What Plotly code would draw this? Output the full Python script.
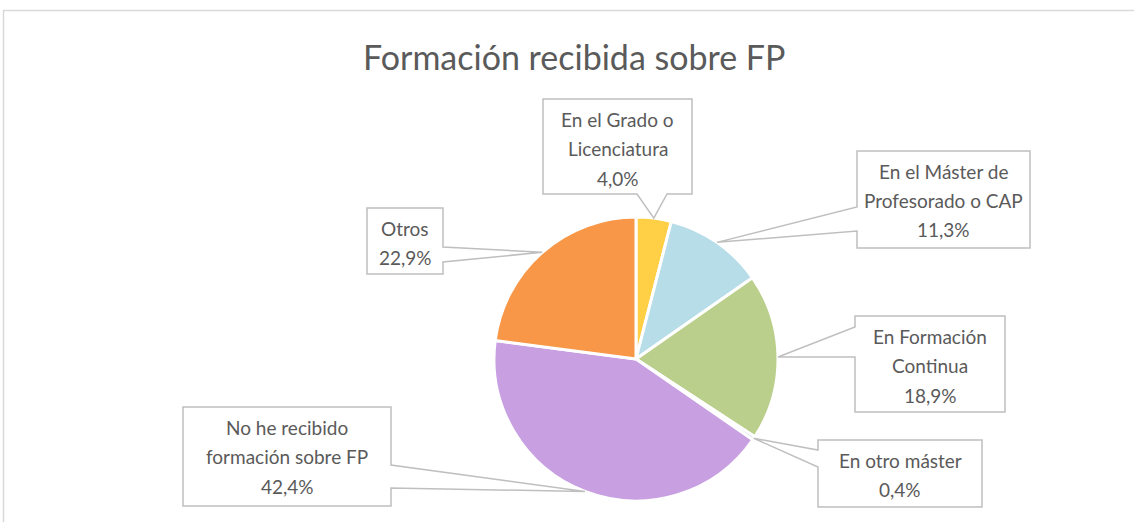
import math
import plotly.graph_objects as go

# ---------------- data ----------------
categories = [
    "En el Grado o Licenciatura",
    "En el Máster de Profesorado o CAP",
    "En Formación Continua",
    "En otro máster",
    "No he recibido formación sobre FP",
    "Otros",
]
values = [4.0, 11.3, 18.9, 0.4, 42.4, 22.9]
label_lines = [
    ["En el Grado o", "Licenciatura"],
    ["En el Máster de", "Profesorado o CAP"],
    ["En Formación", "Continua"],
    ["En otro máster"],
    ["No he recibido", "formación sobre FP"],
    ["Otros"],
]
title_text = "Formación recibida sobre FP"

# ---------------- style / layout ----------------
colors = ["#FFCF45", "#B7DDE8", "#B9CF8B", "#A7BFE0", "#C8A0E2", "#F79747"]
W, H = 1134, 522
CX, CY, R = 636, 359, 142  # pie centre / radius in pixels
TEXT_COLOR = "#5A5A5A"
LINE_COLOR = "#BFBFBF"
FONT = "Lato"
LABEL_SIZE = 19
TITLE_SIZE = 34

# callout boxes in pixels: (x0, y0, x1, y1, side, base_a, base_b)
callouts = [
    (543, 99, 692, 194, "bottom", 637, 667),
    (857, 151, 1030, 248, "left", 207, 231),
    (855, 316, 1005, 412, "left", 327, 357),
    (818, 440, 982, 507, "left", 450, 467),
    (183, 407, 391, 506, "right", 465, 488),
    (367, 208, 443, 274, "right", 247, 262),
]


def px(x):
    return x / W


def py(y):
    return 1 - y / H


fig = go.Figure()
fig.add_trace(
    go.Pie(
        labels=categories,
        values=values,
        sort=False,
        direction="clockwise",
        rotation=0,
        textinfo="none",
        hoverinfo="label+percent",
        marker=dict(colors=colors, line=dict(color="white", width=3)),
        domain=dict(x=[px(CX - R), px(CX + R)], y=[py(CY + R), py(CY - R)]),
        showlegend=False,
    )
)

# tips of the callouts: mid-angle of each slice on the pie edge
total = sum(values)
cum = 0.0
tips = []
for v in values:
    mid = (cum + v / 2) / total * 2 * math.pi
    cum += v
    tips.append((CX + R * math.sin(mid), CY - R * math.cos(mid)))

shapes = []
annotations = []
for (x0, y0, x1, y1, side, a, b), (tx, ty), lines, v in zip(callouts, tips, label_lines, values):
    pts = [(x0, y0), (x1, y0)]
    if side == "right":
        pts += [(x1, a), (tx, ty), (x1, b)]
    pts.append((x1, y1))
    if side == "bottom":
        pts += [(b, y1), (tx, ty), (a, y1)]
    pts.append((x0, y1))
    if side == "left":
        pts += [(x0, b), (tx, ty), (x0, a)]
    path = "M " + " L ".join(f"{px(x):.5f},{py(y):.5f}" for x, y in pts) + " Z"
    shapes.append(
        dict(type="path", path=path, xref="paper", yref="paper",
             line=dict(color=LINE_COLOR, width=1.5), fillcolor="white", layer="above")
    )
    txt_lines = lines + [f"{v:.1f}".replace(".", ",") + "%"]
    for i, t in enumerate(txt_lines):
        annotations.append(
            dict(text=t, x=px((x0 + x1) / 2), y=py(y0 + 20 + i * 29.5), xref="paper", yref="paper",
                 xanchor="center", yanchor="middle", showarrow=False,
                 font=dict(family=FONT, size=LABEL_SIZE, color=TEXT_COLOR))
        )

# outer chart frame
shapes.insert(0, dict(type="rect", xref="paper", yref="paper",
                      x0=px(3.5), y0=py(530), x1=px(1140), y1=py(10.5),
                      line=dict(color="#D9D9D9", width=1.5), fillcolor="rgba(0,0,0,0)", layer="below"))

annotations.append(
    dict(text=title_text, x=px(574), y=py(56), xref="paper", yref="paper",
         xanchor="center", yanchor="middle", showarrow=False,
         font=dict(family=FONT, size=TITLE_SIZE, color=TEXT_COLOR))
)

fig.update_layout(
    width=W, height=H,
    margin=dict(l=0, r=0, t=0, b=0),
    paper_bgcolor="white", plot_bgcolor="white",
    shapes=shapes, annotations=annotations,
)

fig.write_html("out.html")
